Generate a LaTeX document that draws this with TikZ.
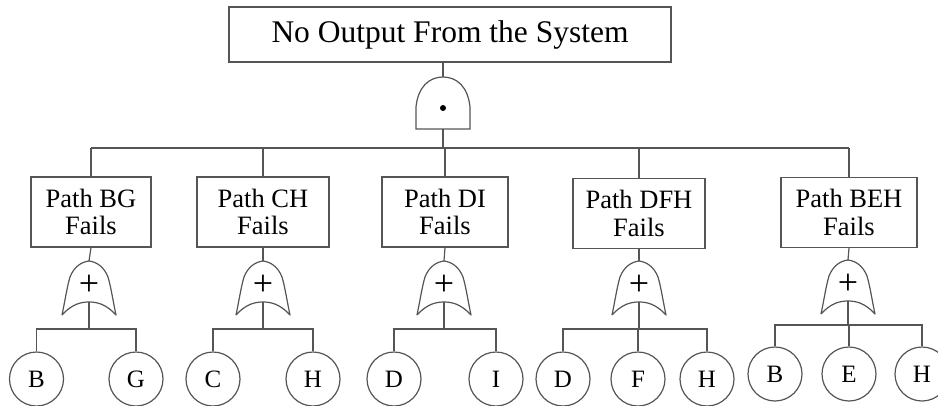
\documentclass[tikz,border=0pt]{standalone}
\usepackage{fontspec}
\setmainfont{Liberation Serif}
\definecolor{wirecol}{HTML}{555555}
\tikzset{
  wire/.style={draw=wirecol, line width=1.2pt},
  topbox/.style={wire, rectangle, minimum width=442pt, minimum height=55pt, inner sep=0pt,
    font=\fontsize{31.5}{33}\selectfont},
  pathbox/.style={wire, rectangle, minimum height=70pt, inner sep=0pt, align=center,
    font=\fontsize{26.5}{27.5}\selectfont},
  leaf/.style={wire, circle, minimum size=54pt, inner sep=0pt, font=\fontsize{25}{27}\selectfont},
  plus/.style={inner sep=0pt, font=\fontsize{36}{38}\selectfont},
  andgate/.pic={
    \draw[wire] (-27,52) -- (-27,30) .. controls (-25,10) and (-14,0) .. (0,0)
      .. controls (14,0) and (25,10) .. (27,30) -- (27,52) -- cycle;
    \fill (0,31) circle (3pt);
    \coordinate (-in) at (0,0);
    \coordinate (-out) at (0,52);
  },
  orgate/.pic={
    \draw[wire, line join=round] (-27,54) .. controls (-24,40) and (-22,26) .. (-19,16)
      .. controls (-15,6) and (-8,1) .. (0,0)
      .. controls (8,1) and (15,6) .. (19,16)
      .. controls (22,26) and (24,40) .. (27,54)
      .. controls (17,43) and (8,41) .. (0,41)
      .. controls (-8,41) and (-17,43) .. (-27,54);
    \node[plus] (-sym) at (0,24) {+};
    \coordinate (-in) at (0,0);
    \coordinate (-out) at (0,41);
  }
}
\begin{document}
\begin{tikzpicture}[x=1pt, y=-1pt]
\useasboundingbox (0,0) rectangle (938,405);

% top event and AND gate
\node[topbox] (top) at (450,34.5) {No Output From the System};
\pic (and) at (443,77) {andgate};
\draw[wire] (and-in) -- (and-in |- top.south);
\coordinate (bus) at (0,148);
\draw[wire] (and-out) -- (and-out |- bus);

% intermediate events
\node[pathbox, minimum width=120pt] (p1) at (91,212) {Path BG\\Fails};
\node[pathbox, minimum width=132pt] (p2) at (263,212) {Path CH\\Fails};
\node[pathbox, minimum width=126pt] (p3) at (445,212) {Path DI\\Fails};
\node[pathbox, minimum width=132pt] (p4) at (639,213.5) {Path DFH\\Fails};
\node[pathbox, minimum width=136pt] (p5) at (849,212.5) {Path BEH\\Fails};
\draw[wire] (p1.north |- bus) -- (p5.north |- bus);
\foreach \p in {p1,p2,p3,p4,p5}
  \draw[wire] (\p.north) -- (\p.north |- bus);

% OR gates
\pic (o1) at (89,261) {orgate};
\pic (o2) at (263,261) {orgate};
\pic (o3) at (444,261) {orgate};
\pic (o4) at (639,261) {orgate};
\pic (o5) at (848,260) {orgate};
\foreach \i in {1,...,5}
  \draw[wire] (p\i.south) -- (o\i-in);

% basic events
\coordinate (s1) at (0,329);
\coordinate (s5) at (0,325);
\node[leaf] (b1) at (36.5,379) {B};
\node[leaf] (g1) at (136,379) {G};
\node[leaf] (c2) at (213,379) {C};
\node[leaf] (h2) at (313,379) {H};
\node[leaf] (d3) at (394,379) {D};
\node[leaf] (i3) at (496,379) {I};
\node[leaf] (d4) at (563,379) {D};
\node[leaf] (f4) at (638,379) {F};
\node[leaf] (h4) at (707,379) {H};
\node[leaf] (b5) at (775,374) {B};
\node[leaf] (e5) at (849,374) {E};
\node[leaf] (h5) at (922,374) {H};

\draw[wire] (o1-out) -- (o1-out |- s1);
\draw[wire] (b1.north) -- (b1.north |- s1) -- (g1.north |- s1) -- (g1.north);
\draw[wire] (o2-out) -- (o2-out |- s1);
\draw[wire] (c2.north) -- (c2.north |- s1) -- (h2.north |- s1) -- (h2.north);
\draw[wire] (o3-out) -- (o3-out |- s1);
\draw[wire] (d3.north) -- (d3.north |- s1) -- (i3.north |- s1) -- (i3.north);
\draw[wire] (o4-out) -- (o4-out |- s1);
\draw[wire] (d4.north) -- (d4.north |- s1) -- (h4.north |- s1) -- (h4.north);
\draw[wire] (f4.north) -- (f4.north |- s1);
\draw[wire] (o5-out) -- (o5-out |- s5);
\draw[wire] (b5.north) -- (b5.north |- s5) -- (h5.north |- s5) -- (h5.north);
\draw[wire] (e5.north) -- (e5.north |- s5);
\end{tikzpicture}
\end{document}
